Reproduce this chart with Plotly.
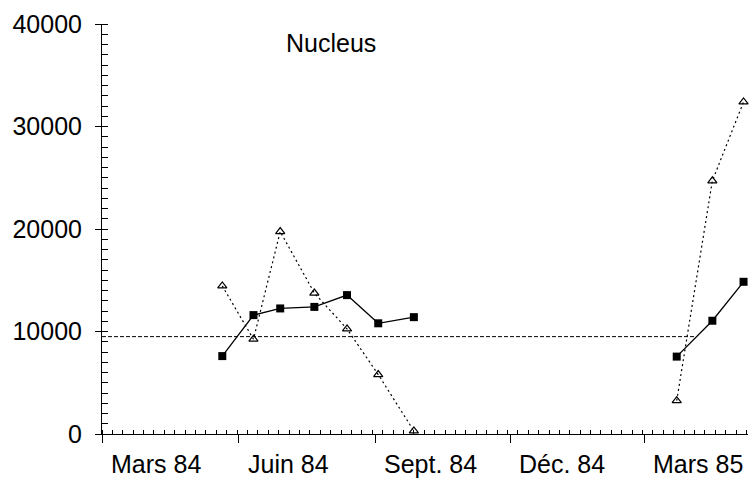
import plotly.graph_objects as go

# ---- data ----
dates = ["1984-05-21", "1984-06-11", "1984-06-29", "1984-07-22", "1984-08-13",
         "1984-09-03", "1984-09-27", None,
         "1985-03-23", "1985-04-16", "1985-05-07"]
squares = [7600, 11600, 12250, 12400, 13550, 10800, 11400, None, 7550, 11050, 14850]
triangles = [14450, 9250, 19750, 13750, 10250, 5800, 300, None, 3250, 24700, 32400]

ref_x = ["1984-03-01", "1985-04-04"]
ref_y = [9500, 9500]

xtick_vals = ["1984-03-01", "1984-06-01", "1984-09-01", "1984-12-01", "1985-03-01"]
xtick_text = ["Mars 84", "Juin 84", "Sept. 84", "Déc. 84", "Mars 85"]
ytick_vals = [0, 10000, 20000, 30000, 40000]
ytick_text = ["0", "10000", "20000", "30000", "40000"]
title_text = "Nucleus"

x_range = ["1984-03-01", "1985-05-10"]
y_range = [0, 40000]

FONT = "Liberation Sans, Arial, sans-serif"
FS = 25

fig = go.Figure()

fig.add_trace(go.Scatter(
    x=ref_x, y=ref_y, mode="lines",
    line=dict(color="black", width=1, dash="4px,2px"),
    showlegend=False, hoverinfo="skip"))

fig.add_trace(go.Scatter(
    x=dates, y=triangles, mode="lines+markers",
    line=dict(color="black", width=1.2, dash="2px,3px"),
    marker=dict(symbol="triangle-up-open", size=8, color="black",
                line=dict(color="black", width=1.2)),
    connectgaps=False, showlegend=False, cliponaxis=False))

fig.add_trace(go.Scatter(
    x=dates, y=squares, mode="lines+markers",
    line=dict(color="black", width=1.3),
    marker=dict(symbol="square", size=8, color="black"),
    connectgaps=False, showlegend=False, cliponaxis=False))

for v, t in zip(xtick_vals, xtick_text):
    fig.add_annotation(x=v, xref="x", y=0, yref="paper", text=t,
                       showarrow=False, xanchor="left", yanchor="top",
                       xshift=7, yshift=-14,
                       font=dict(family=FONT, size=FS, color="black"))

fig.add_annotation(x=0.354, xref="paper", y=0.954, yref="paper", text=title_text,
                   showarrow=False, xanchor="center", yanchor="middle",
                   font=dict(family=FONT, size=FS, color="black"))

fig.update_layout(
    width=749, height=480,
    margin=dict(l=102, r=1, t=24, b=46, pad=0),
    paper_bgcolor="white", plot_bgcolor="white",
    font=dict(family=FONT, size=FS, color="black"),
    xaxis=dict(
        type="date", range=x_range, showgrid=False, zeroline=False,
        showline=True, linecolor="black", linewidth=1,
        tickmode="array", tickvals=xtick_vals, ticktext=[""] * len(xtick_vals),
        ticks="outside", ticklen=8, tickcolor="black", tickwidth=1,
        minor=dict(ticks="inside", ticklen=4, tickcolor="black", tickwidth=1,
                   dtick=7 * 86400000, tick0="1984-03-01", showgrid=False),
    ),
    xaxis2=dict(
        type="date", overlaying="x", matches="x", anchor="y", side="bottom",
        showgrid=False, zeroline=False, showline=False, showticklabels=False,
        tickmode="array", tickvals=xtick_vals,
        ticks="inside", ticklen=5, tickcolor="black", tickwidth=1,
    ),
    yaxis=dict(
        range=y_range, showgrid=False, zeroline=False,
        showline=True, linecolor="black", linewidth=1,
        tickmode="array", tickvals=ytick_vals, ticktext=ytick_text,
        ticks="outside", ticklen=6, tickcolor="black", tickwidth=1,
        ticklabelstandoff=8,
        tickfont=dict(family=FONT, size=FS, color="black"),
        minor=dict(ticks="inside", ticklen=6, tickcolor="black", tickwidth=1,
                   dtick=1000, tick0=0, showgrid=False),
    ),
    yaxis2=dict(
        overlaying="y", matches="y", anchor="x", side="left",
        showgrid=False, zeroline=False, showline=False, showticklabels=False,
        tickmode="array", tickvals=ytick_vals,
        ticks="inside", ticklen=6, tickcolor="black", tickwidth=1,
    ),
)

fig.write_html(
    "out.html",
    config={"displayModeBar": False},
    post_script="document.body.style.margin='0';document.body.style.overflow='hidden';",
)
